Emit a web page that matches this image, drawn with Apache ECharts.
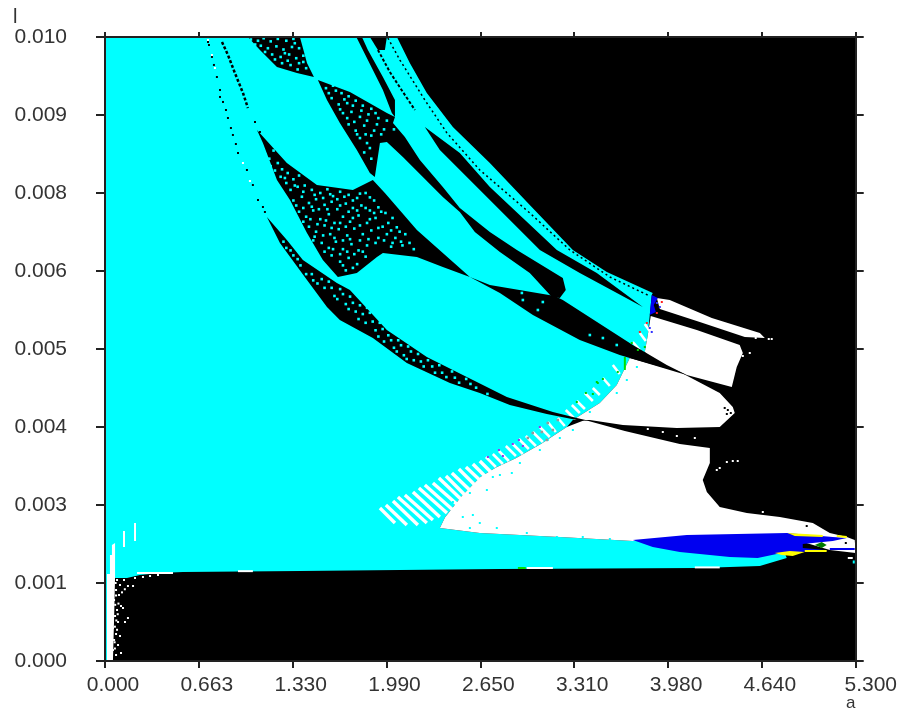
<!DOCTYPE html>
<html>
<head>
<meta charset="utf-8">
<style>html,body{margin:0;padding:0;background:#fff}#c{width:900px;height:709px}</style>
<script src="https://cdn.jsdelivr.net/npm/echarts@6/dist/echarts.min.js"></script>
</head>
<body>
<div id="c"></div>
<script>
// Axis tick labels
const aTickLabels = ['0.000','0.663','1.330','1.990','2.650','3.310','3.980','4.640','5.300'];
const lTickLabels = ['0.000','0.001','0.003','0.004','0.005','0.006','0.008','0.009','0.010'];

// Regions of the (a, l) plane, boundaries. Each point: [a, l * 1000]
const cyanRegion = [[0,10],[2.061,10],[2.152,9.584],[2.272,9.103],[2.456,8.558],[2.717,7.981],[2.999,7.308],[3.303,6.587],[3.543,6.234],[3.867,5.898],[3.860,5.866],[3.846,5.545],[3.832,5.224],[3.811,4.952],[3.705,4.856],[3.613,4.423],[3.493,4.135],[3.303,3.862],[3.260,3.750],[3.08,3.48],[2.90,3.25],[2.76,3.10],[2.65,2.95],[2.52,2.65],[2.40,2.30],[2.364,2.131],[2.646,2.051],[3.211,1.987],[3.726,1.923],[4.764,1.923],[4.813,1.651],[4.623,1.522],[4.199,1.490],[2.788,1.474],[1.376,1.442],[0.550,1.426],[0.388,1.410],[0.247,1.378],[0.155,1.330],[0.014,1.330],[0.014,0],[0,0]];
const whiteMain = [[2.364,2.131],[2.40,2.30],[2.52,2.65],[2.65,2.95],[2.76,3.10],[2.90,3.25],[3.08,3.48],[3.260,3.750],[3.388,3.862],[3.670,3.686],[4.058,3.478],[4.270,3.414],[4.270,3.173],[4.220,2.901],[4.249,2.708],[4.340,2.468],[4.531,2.372],[4.764,2.308],[4.997,2.212],[5.117,2.051],[5.237,1.987],[5.293,1.939],[5.300,1.731],[5.117,1.779],[4.905,1.923],[3.726,1.923],[3.211,1.987],[2.646,2.051]];
const whiteMiddle = [[3.303,3.862],[3.423,3.862],[3.656,3.782],[4.037,3.734],[4.340,3.750],[4.446,3.974],[4.432,4.071],[4.340,4.295],[4.058,4.632],[3.705,4.856],[3.613,4.423],[3.493,4.135]];
const whiteUpper = [[3.853,5.529],[4.178,5.305],[4.481,5.064],[4.503,4.936],[4.460,4.712],[4.425,4.391],[4.107,4.583],[3.867,4.824],[3.811,4.952],[3.832,5.224]];
const whiteStrip = [[3.896,5.817],[3.987,5.785],[4.284,5.497],[4.623,5.257],[4.658,5.176],[4.517,5.192],[4.199,5.433],[3.917,5.641]];
const whiteLeft = [[0.014,0],[0.056,0],[0.064,0.657],[0.071,1.346],[0.071,1.891],[0.049,1.859],[0.049,1.699],[0.035,1.699],[0.035,1.394],[0.014,1.394]];
const blueRegion = [[3.726,1.939],[4.107,2.019],[4.813,2.051],[5.138,1.987],[5.237,1.971],[5.138,1.923],[4.926,1.875],[4.926,1.811],[5.081,1.779],[4.742,1.715],[4.608,1.651],[4.411,1.667],[4.058,1.747],[3.867,1.827]];
const blueCorner = [[3.860,5.866],[3.903,5.817],[3.874,5.705],[3.889,5.593],[3.846,5.545]];
const yellowTop = [[4.820,2.051],[5.067,2.019],[5.067,1.987],[4.870,2.003]];
const yellowLow = [[4.728,1.731],[4.834,1.763],[4.940,1.747],[4.855,1.683],[4.778,1.699]];
const greenPatch = [[5.011,1.859],[5.060,1.907],[5.095,1.859],[5.060,1.811]];

const blackTop = [[1.009,10],[1.376,10],[1.426,9.584],[1.475,9.359],[1.355,9.423],[1.214,9.519],[1.094,9.792]];
const blackUpper = [[1.503,9.311],[1.729,9.119],[1.990,8.782],[2.047,8.718],[2.033,8.622],[2.117,8.398],[2.223,8.029],[2.385,7.596],[2.505,7.260],[2.717,6.875],[2.908,6.587],[3.232,6.138],[3.253,5.946],[3.211,5.817],[3.155,5.833],[2.999,6.218],[2.788,6.555],[2.611,6.875],[2.505,7.196],[2.385,7.436],[2.244,7.757],[2.103,8.077],[1.990,8.317],[1.941,8.301],[1.905,7.757],[1.870,7.821],[1.778,8.189],[1.658,8.622],[1.567,8.991]];
const blackSliver = [[1.778,9.984],[1.814,10],[1.856,9.792],[1.962,9.359],[2.047,8.991],[2.047,8.718],[2.025,8.782],[1.962,9.151]];
const blackWedge = [[1.870,10],[1.990,10],[1.976,9.792],[1.927,9.792]];
const blackTail = [[2.258,8.558],[2.505,8.141],[2.717,7.596],[3.190,6.587],[3.472,6.218],[3.797,5.673],[3.352,6.218],[3.070,6.587],[2.717,7.388],[2.364,8.189]];
const blackCentral = [[1.073,8.510],[1.284,7.981],[1.496,7.628],[1.750,7.548],[1.891,7.709],[1.976,7.500],[2.202,6.907],[2.385,6.539],[2.576,6.154],[2.717,6.026],[3.176,5.849],[3.232,5.785],[3.726,5.064],[3.966,4.744],[4.107,4.583],[4.058,4.616],[3.634,4.904],[3.352,5.144],[3.021,5.545],[2.788,5.898],[2.576,6.154],[2.385,6.314],[2.202,6.475],[1.962,6.539],[1.920,6.475],[1.778,6.218],[1.644,6.154],[1.538,6.426],[1.426,6.859],[1.306,7.388],[1.214,7.709],[1.115,8.301]];
const blackLower = [[1.143,7.116],[1.284,6.747],[1.397,6.426],[1.637,6.058],[1.729,5.946],[1.990,5.305],[2.272,4.872],[2.597,4.503],[2.837,4.231],[3.162,3.990],[3.331,3.894],[3.423,3.846],[3.331,3.862],[3.119,3.958],[2.858,4.103],[2.646,4.295],[2.435,4.455],[2.131,4.776],[1.891,5.176],[1.658,5.465],[1.567,5.673],[1.426,6.106],[1.235,6.699]];

// Dashed curves
const envelopeCurve = [[1.997,9.984],[2.082,9.631],[2.258,8.991],[2.414,8.462],[2.646,7.869],[2.999,7.180],[3.282,6.587],[3.564,6.154],[3.846,5.849]];
const thinBand = [[1.927,9.792],[2.011,9.439],[2.103,9.119],[2.188,8.830]];
const leftBand = [[0.826,9.920],[0.868,9.712],[0.917,9.423],[0.974,9.103],[1.009,8.862]];

// Fringe stripes: [a0, l0*1000, a1, l1*1000]
const fringeStripesLong = [[1.941,2.452,2.047,2.212],[1.983,2.500,2.131,2.180],[2.033,2.564,2.209,2.180],[2.068,2.628,2.272,2.212],[2.117,2.660,2.315,2.260],[2.174,2.708,2.364,2.308],[2.216,2.772,2.414,2.372],[2.258,2.821,2.456,2.420],[2.315,2.853,2.491,2.500],[2.357,2.933,2.519,2.580],[2.407,2.965,2.555,2.628],[2.449,3.013,2.597,2.692],[2.498,3.077,2.632,2.772],[2.548,3.109,2.668,2.853],[2.597,3.157,2.703,2.917],[2.646,3.205,2.731,3.013]];
const fringeStripesShort = [[2.689,3.269,2.759,3.109],[2.738,3.317,2.809,3.157],[2.781,3.365,2.851,3.205],[2.830,3.446,2.901,3.285],[2.879,3.478,2.950,3.317],[2.922,3.558,2.992,3.398],[2.971,3.606,3.042,3.446],[3.020,3.670,3.091,3.510],[3.070,3.750,3.140,3.590],[3.126,3.830,3.183,3.670],[3.197,3.894,3.246,3.766],[3.253,4.022,3.310,3.894],[3.296,4.103,3.352,3.974],[3.331,4.167,3.388,4.039],[3.388,4.295,3.444,4.167],[3.444,4.375,3.493,4.263],[3.515,4.535,3.564,4.407],[3.585,4.744,3.634,4.599],[3.726,5.112,3.776,4.984],[3.776,5.257,3.818,5.128],[3.811,5.401,3.846,5.289]];
// Short solid streaks
const whiteStreaks = [[0.134,2.083,0.134,1.827],[0.212,2.212,0.212,1.923],[0.226,1.41,0.480,1.41],[0.939,1.44,1.044,1.44],[2.978,1.49,3.162,1.49],[4.164,1.50,4.340,1.50],[5.244,1.651,5.279,1.651]];
const greenStreaks = [[2.915,1.49,2.971,1.49],[3.670,4.872,3.670,4.664]];
const blueStreaks = [[5.117,1.795,5.293,1.795]];
const yellowStreaks = [[5.166,2.003,5.237,1.987],[4.940,1.763,5.095,1.763]];
const cyanStreaks = [[5.279,1.587,5.293,1.587]];

// Small speckles
const cyanDots = [
 [1.10,8.25],[1.13,8.12],[1.16,8.05],[1.19,8.18],[1.17,7.93],[1.22,7.98],[1.25,7.88],[1.24,7.76],[1.29,7.82],[1.33,7.72],[1.28,7.66],[1.37,7.78],[1.31,7.55],[1.36,7.60],[1.41,7.62],[1.46,7.55],[1.52,7.50],[1.57,7.56],[1.61,7.45],[1.66,7.52],[1.72,7.47],[1.78,7.42],[1.84,7.50],[1.90,7.38],[1.33,7.38],[1.39,7.44],[1.44,7.34],[1.49,7.40],[1.55,7.31],[1.60,7.36],[1.64,7.24],[1.70,7.33],[1.75,7.26],[1.81,7.30],[1.87,7.22],[1.93,7.27],[1.98,7.18],[2.03,7.10],[1.37,7.20],[1.42,7.12],[1.47,7.22],[1.52,7.08],[1.58,7.16],[1.62,7.02],[1.68,7.12],[1.73,7.04],[1.79,7.14],[1.85,7.02],[1.91,7.10],[1.96,6.96],[2.06,6.95],[1.44,6.96],[1.49,6.88],[1.55,6.98],[1.59,6.84],[1.65,6.92],[1.71,6.82],[1.76,6.93],[1.82,6.84],[1.88,6.90],[1.93,6.78],[1.99,6.84],[2.05,6.78],[2.12,6.84],[1.47,6.74],[1.53,6.70],[1.58,6.62],[1.63,6.72],[1.68,6.60],[1.74,6.68],[1.79,6.58],[1.85,6.66],[2.02,6.64],[2.10,6.66],[2.18,6.60],[1.60,6.50],[1.66,6.40],[1.72,6.46],[1.78,6.36],[1.84,6.48],[1.70,6.26],
 [1.12,8.20],[1.15,8.00],[1.20,7.86],[1.27,7.74],[1.34,7.62],[1.40,7.52],[1.48,7.47],[1.54,7.42],[1.59,7.48],[1.64,7.40],[1.69,7.44],[1.75,7.38],[1.80,7.49],[1.87,7.43],[1.35,7.30],[1.40,7.26],[1.46,7.28],[1.51,7.24],[1.57,7.24],[1.66,7.30],[1.72,7.20],[1.78,7.22],[1.84,7.26],[1.90,7.18],[1.95,7.20],[2.00,7.02],[1.40,7.04],[1.45,7.08],[1.50,7.00],[1.56,7.06],[1.60,6.94],[1.66,7.02],[1.70,6.96],[1.75,7.10],[1.80,6.98],[1.87,7.08],[1.93,6.94],[2.02,6.90],[2.08,6.88],[1.48,6.80],[1.54,6.82],[1.62,6.78],[1.68,6.74],[1.73,6.76],[1.80,6.74],[1.86,6.76],[1.91,6.70],[1.97,6.74],[2.03,6.70],[2.09,6.72],[2.15,6.70],[1.55,6.56],[1.61,6.60],[1.66,6.52],[1.71,6.56],[1.76,6.52],[1.82,6.56],[1.75,6.30],[1.68,6.34],
 [1.56,9.18],[1.61,9.22],[1.67,9.10],[1.72,9.05],[1.60,9.02],[1.65,8.92],[1.71,8.94],[1.77,8.98],[1.82,8.90],[1.88,8.85],[1.68,8.78],[1.74,8.80],[1.80,8.72],[1.86,8.76],[1.93,8.70],[1.99,8.66],[1.72,8.60],[1.77,8.50],[1.83,8.58],[1.90,8.50],[1.97,8.52],[2.04,8.52],[1.80,8.38],[1.85,8.30],[1.88,8.42],[1.83,8.15],[1.88,8.05],
 [1.58,9.10],[1.63,9.14],[1.69,9.00],[1.75,8.90],[1.66,8.84],[1.81,8.82],[1.91,8.78],[1.71,8.70],[1.76,8.64],[1.85,8.66],[1.92,8.60],[1.78,8.44],[1.84,8.44],[1.95,8.44],[1.87,8.22],
 [1.03,9.96],[1.08,9.94],[1.12,9.98],[1.17,9.93],[1.22,9.97],[1.28,9.94],[1.33,9.97],[1.10,9.86],[1.15,9.82],[1.21,9.85],[1.26,9.80],[1.32,9.84],[1.37,9.82],[1.18,9.72],[1.24,9.68],[1.30,9.72],[1.35,9.66],[1.40,9.70],[1.25,9.58],[1.31,9.55],[1.37,9.58],[1.42,9.50],[1.36,9.48],[1.06,9.88],[1.13,9.76],[1.20,9.64],[1.27,9.74],[1.34,9.90],[1.40,9.60],[1.29,9.62],
 [1.28,6.62],[1.33,6.50],[1.38,6.34],[1.46,6.20],[1.50,6.05],[1.55,5.98],[1.58,6.08],[1.62,5.85],[1.66,5.96],[1.70,5.72],[1.73,5.84],[1.77,5.60],[1.80,5.70],[1.84,5.42],[1.87,5.58],[1.91,5.30],[1.94,5.42],[1.97,5.12],[2.00,5.22],[2.04,5.02],[2.07,5.14],[2.11,4.90],[2.14,5.04],[2.18,4.82],[2.21,4.92],[2.25,4.72],[2.28,4.82],[2.33,4.62],[2.36,4.74],[2.41,4.55],[2.45,4.64],[2.50,4.46],[2.55,4.52],[2.62,4.38],[2.70,4.28],
 [1.26,6.72],[1.31,6.58],[1.36,6.44],[1.42,6.20],[1.47,6.10],[1.53,6.12],[1.60,5.98],[1.64,5.80],[1.68,5.88],[1.72,5.64],[1.75,5.74],[1.79,5.48],[1.82,5.56],[1.85,5.66],[1.89,5.44],[1.93,5.20],[1.96,5.32],[2.02,5.14],[2.06,4.96],[2.09,5.06],[2.13,4.84],[2.16,4.96],[2.23,4.80],[2.31,4.72],[2.38,4.62],[2.47,4.54],[2.58,4.44],
 [3.423,5.224],[3.515,5.176],[3.613,5.064],[2.950,5.785],[3.091,5.753],[3.056,5.625],[2.943,5.898]
];
const fringeDots = [[2.456,2.548],[2.576,2.692],[2.526,2.308],[2.597,2.340],[2.646,2.212],[2.576,2.131],[2.766,2.131],[2.978,2.051],[3.190,1.987],[3.373,1.987],[3.564,1.955],[2.696,2.740],[2.788,2.981],[2.929,3.173],[3.070,3.381],[3.126,3.542],[3.211,3.574],[3.303,3.702],[3.543,4.295],[3.613,4.295],[3.684,4.503],[3.755,4.712],[2.872,3.013],[2.738,2.949],[3.423,3.990]];
const blackDots = [[0.727,9.920],[0.734,9.872],[0.755,9.680],[0.769,9.552],[0.790,9.359],[0.812,9.151],[0.812,9.039],[0.833,8.959],[0.854,8.830],[0.868,8.702],[0.889,8.542],[0.903,8.430],[0.924,8.285],[0.939,8.141],[1.002,7.869],[1.044,7.628],[1.080,7.388],[1.115,7.276],[1.129,7.196],[1.059,8.638],[1.094,8.478],[4.397,4.022],[4.390,3.958],[4.418,3.974],[4.375,4.055],[4.954,2.163],[5.230,1.891]];
const whiteDots = [[0.974,7.981],[1.023,7.692],[0.727,9.952],[0.755,9.712],[0.776,9.503],[3.938,3.670],[3.832,3.718],[4.037,3.606],[4.164,3.574],[4.552,4.936],[4.503,4.888],[4.707,5.160],[4.686,5.160],[4.608,5.224],[4.594,5.176],[4.390,3.189],[4.432,3.205],[4.467,3.205],[4.319,3.061],[4.340,3.093],[4.644,2.388],
 [.085,1.298],[.106,1.218],[.078,1.138],[.099,1.058],[.064,.978],[.113,.881],[.085,.817],[.127,.849],[.071,.721],[.092,.625],[.056,.529],[.078,.433],[.106,.401],[.064,.337],[.092,.256],[.056,.176],[.078,.096],[.113,.128],[.141,.625],[.162,.689],[.162,1.202],[.198,1.202],[.134,1.298],[.212,1.330],[.268,1.346],[.318,1.362],[.374,1.378],
 [.075,1.25],[.078,1.05],[.072,.90],[.080,.65],[.070,.55],[.068,.30],[.070,.20],[.085,.50],[.090,.75],[.095,.92],[.120,1.10],[.140,1.15]];
const violetDots = [[2.781,3.381],[2.809,3.285],[2.879,3.478],[2.922,3.542],[2.950,3.446],[3.070,3.750],[2.703,3.269]];
const grayDots = [[2.985,3.574],[3.020,3.654],[3.126,3.814],[3.197,3.862],[3.119,3.542],[3.162,3.702],[3.084,3.670]];
const greenDots = [[3.620,4.632],[3.472,4.471],[3.515,4.519],[3.719,5.096],[3.762,4.984],[3.811,5.032],[3.331,4.151],[3.395,4.295],[3.444,4.279],[3.479,4.455]];
const redDots = [[3.825,5.417],[3.776,5.273],[3.931,5.753],[3.896,5.577]];
const blueDots = [[3.860,5.273],[3.846,5.337],[3.896,5.737],[3.917,5.673]];

const K = 1000;
const toData = pts => pts.map(p => [p[0], p[1] / K]);

function region(pts, color) {
  const d = toData(pts);
  return {
    type: 'custom', coordinateSystem: 'cartesian2d', silent: true, animation: false, clip: true, data: d,
    encode: { x: 0, y: 1 },
    renderItem: (params, api) => params.dataIndex === 0
      ? { type: 'polygon', shape: { points: d.map(p => api.coord(p)) }, style: { fill: color } }
      : null
  };
}
function segments(list, color, width) {
  return {
    type: 'custom', coordinateSystem: 'cartesian2d', silent: true, animation: false, clip: true,
    data: list.map(s => [s[0], s[1] / K, s[2], s[3] / K]),
    encode: { x: [0, 2], y: [1, 3] },
    renderItem: (params, api) => {
      const a = api.coord([api.value(0), api.value(1)]);
      const b = api.coord([api.value(2), api.value(3)]);
      return { type: 'line', shape: { x1: a[0], y1: a[1], x2: b[0], y2: b[1] }, style: { stroke: color, lineWidth: width, fill: null } };
    }
  };
}
function dashed(pts, width, dash) {
  return { type: 'line', silent: true, animation: false, showSymbol: false, data: toData(pts),
    lineStyle: { color: '#000', width: width, type: dash } };
}
function dots(pts, color, size) {
  return { type: 'scatter', silent: true, animation: false, symbol: 'rect', symbolSize: size, data: toData(pts),
    itemStyle: { color: color, opacity: 1 } };
}

const axisColor = '#222';
const labelFont = { fontFamily: '"Liberation Sans", Arial, sans-serif', fontSize: 21, color: '#333' };
const xCommon = { type: 'value', min: 0, max: 5.3, interval: 0.6625, z: 10, splitLine: { show: false },
  axisLine: { onZero: false, lineStyle: { color: axisColor, width: 2 } } };
const yCommon = { type: 'value', min: 0, max: 0.01, interval: 0.00125, z: 10, splitLine: { show: false },
  axisLine: { onZero: false, lineStyle: { color: axisColor, width: 2 } } };

const chart = echarts.init(document.getElementById('c'), null, { renderer: 'canvas' });
chart.setOption({
  animation: false,
  backgroundColor: '#fff',
  grid: { left: 105, right: 44, top: 37, bottom: 48, show: true, backgroundColor: '#000', borderWidth: 0 },
  xAxis: [
    Object.assign({}, xCommon, { position: 'bottom',
      axisTick: { length: 7, lineStyle: { color: axisColor, width: 2 } },
      axisLabel: Object.assign({}, labelFont, { margin: 14, showMinLabel: true, showMaxLabel: true, hideOverlap: false,
        formatter: (v, i) => (i === aTickLabels.length - 1 ? '{e|' : '{n|') + aTickLabels[i] + '}',
        rich: { n: Object.assign({}, labelFont, { padding: [0, 0, 0, 16] }), e: Object.assign({}, labelFont, { padding: [0, 0, 0, 30] }) } }) }),
    Object.assign({}, xCommon, { position: 'top', axisTick: { length: 5, lineStyle: { color: axisColor, width: 2 } }, axisLabel: { show: false } })
  ],
  yAxis: [
    Object.assign({}, yCommon, { position: 'left',
      axisTick: { length: 9, lineStyle: { color: axisColor, width: 2 } },
      axisLabel: Object.assign({}, labelFont, { margin: 38, showMinLabel: true, showMaxLabel: true, hideOverlap: false, formatter: (v, i) => lTickLabels[i] }) }),
    Object.assign({}, yCommon, { position: 'right', axisTick: { length: 8, lineStyle: { color: axisColor, width: 2 } }, axisLabel: { show: false } })
  ],
  graphic: [
    { type: 'text', left: 13, top: 7, style: { text: 'l', font: '20px "Liberation Sans", Arial, sans-serif', fill: '#333' } },
    { type: 'text', left: 846, top: 695, style: { text: 'a', font: '17px "Liberation Sans", Arial, sans-serif', fill: '#333' } }
  ],
  series: [
    region(cyanRegion, '#00ffff'),
    region(whiteMain, '#ffffff'), region(whiteMiddle, '#ffffff'), region(whiteUpper, '#ffffff'),
    region(whiteStrip, '#ffffff'), region(whiteLeft, '#ffffff'),
    region(blueRegion, '#0000f0'), region(blueCorner, '#0000f0'),
    region(yellowTop, '#ffff00'), region(yellowLow, '#ffff00'), region(greenPatch, '#007a00'),
    segments(fringeStripesLong, '#ffffff', 3.4),
    segments(fringeStripesShort, '#ffffff', 2.6),
    segments(whiteStreaks, '#ffffff', 2),
    segments(greenStreaks, '#00e000', 2),
    segments(blueStreaks, '#0000f0', 2),
    segments(yellowStreaks, '#ffff00', 2),
    segments(cyanStreaks, '#00ffff', 3),
    region(blackTop, '#000'), region(blackUpper, '#000'), region(blackSliver, '#000'), region(blackWedge, '#000'),
    region(blackTail, '#000'), region(blackCentral, '#000'), region(blackLower, '#000'),
    dashed(envelopeCurve, 1.5, [2, 3]), dashed(thinBand, 2, [3, 2]), dashed(leftBand, 2.5, [3, 2]),
    dots(cyanDots, '#00ffff', 2.6),
    dots(fringeDots, '#00ffff', 2),
    dots(blackDots, '#000', 2), dots(whiteDots, '#ffffff', 2),
    dots(violetDots, '#9a30f0', 2), dots(grayDots, '#999999', 2.5),
    dots(greenDots, '#00d000', 2), dots(redDots, '#ff2020', 2), dots(blueDots, '#3030ff', 2)
  ]
});
</script>
</body>
</html>
